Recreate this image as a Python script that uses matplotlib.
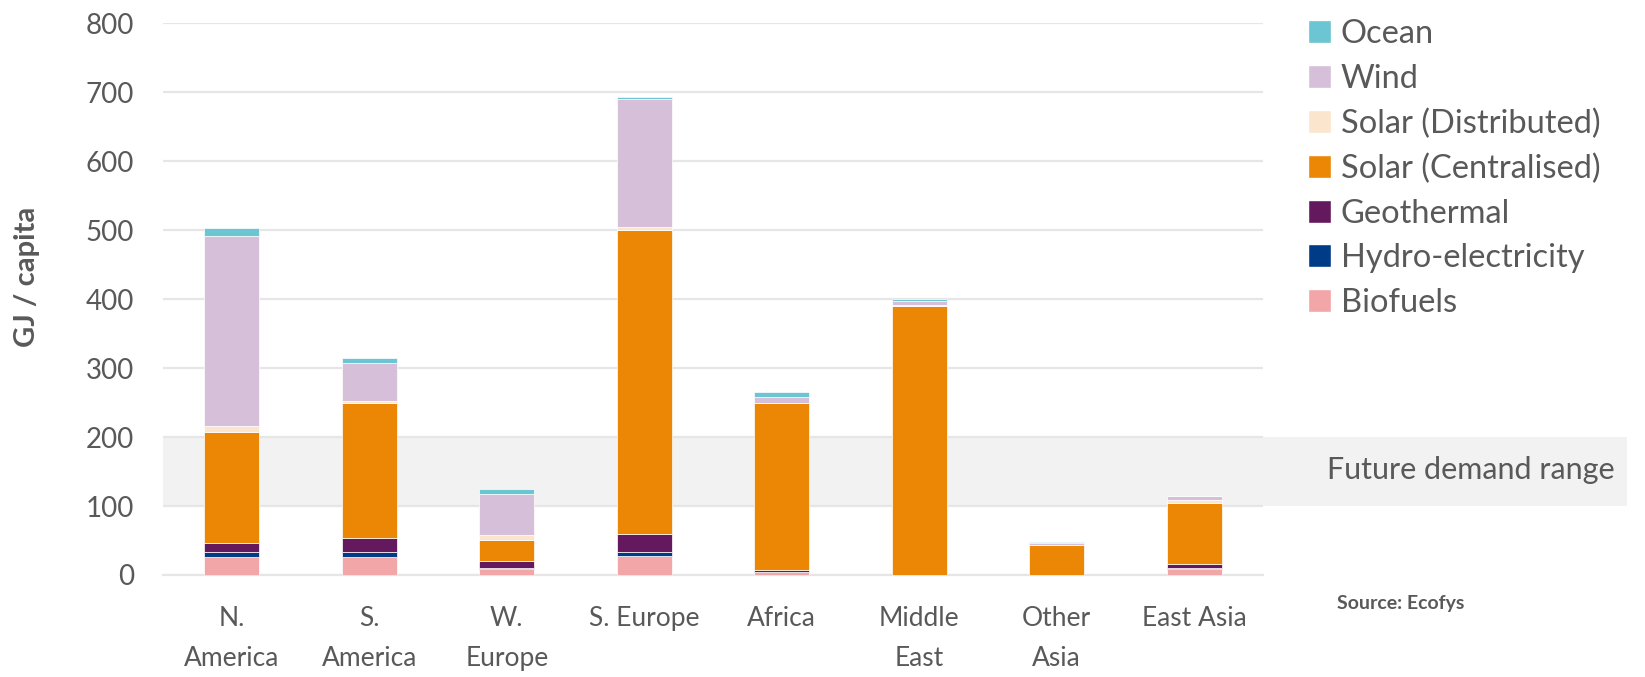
import matplotlib.pyplot as plt
import matplotlib.patches as mpatches
import numpy as np

plt.rcParams['font.family'] = ['Lato', 'DejaVu Sans']

# regions and stacked renewable supply (GJ / capita)
regions = ["N.\nAmerica", "S.\nAmerica", "W.\nEurope", "S. Europe", "Africa",
           "Middle\nEast", "Other\nAsia", "East Asia"]
biofuels = [26, 26, 8, 28, 4, 0, 0, 8]
hydro = [7, 7, 2, 5, 1, 0, 0, 2]
geothermal = [13, 20, 10, 26, 2, 0, 0, 6]
solar_central = [162, 197, 30, 441, 242, 390, 44, 89]
solar_distrib = [8, 2, 8, 4, 0, 1, 0, 3]
wind = [276, 56, 60, 186, 9, 6, 2, 6]
ocean = [11, 6, 7, 3, 7, 3, 2, 0]

series = [
    ("Biofuels", biofuels, "#F2A6A8"),
    ("Hydro-electricity", hydro, "#003B87"),
    ("Geothermal", geothermal, "#64195E"),
    ("Solar (Centralised)", solar_central, "#EB8705"),
    ("Solar (Distributed)", solar_distrib, "#FBE5CD"),
    ("Wind", wind, "#D5BFD9"),
    ("Ocean", ocean, "#6BC5D2"),
]

demand_low, demand_high = 100, 200
grey_txt = "#595959"
grid_col = "#E6E6E6"

fig = plt.figure(figsize=(16.45, 6.77), dpi=100)
ax = fig.add_axes([0.0991, 0.1507, 0.6687, 0.8149])

# future demand band, runs past the plot area under its label
band = mpatches.Rectangle((0, demand_low), 1.331, demand_high - demand_low,
                          transform=ax.get_yaxis_transform(), clip_on=False,
                          facecolor="#F2F2F2", edgecolor="none", zorder=0)
ax.add_patch(band)

x = np.arange(len(regions))
bottom = np.zeros(len(regions))
handles = []
for name, vals, col in series:
    vals = np.array(vals, dtype=float)
    ax.bar(x, vals, width=0.4, bottom=bottom, color=col,
           edgecolor="white", linewidth=0.5, zorder=3)
    bottom += vals
    handles.append(mpatches.Patch(facecolor=col, edgecolor="white", label=name))

ax.set_xlim(-0.5, len(regions) - 0.5)
ax.set_ylim(0, 800)
ax.set_yticks(np.arange(0, 801, 100))
ax.yaxis.grid(True, color=grid_col, linewidth=1.6, zorder=1)
ax.set_axisbelow(True)
for s in ["top", "right", "left"]:
    ax.spines[s].set_visible(False)
ax.spines["bottom"].set_color(grid_col)
ax.spines["bottom"].set_linewidth(1.6)
ax.tick_params(axis="both", length=0, colors=grey_txt)
ax.tick_params(axis="y", pad=21, labelsize=20)
ax.tick_params(axis="x", pad=22, labelsize=19)
ax.set_xticks(x)
ax.set_xticklabels(regions, linespacing=1.75)

ax.set_ylabel("GJ / capita", fontsize=21, fontweight="bold", color=grey_txt)
ax.yaxis.set_label_coords(-0.112, 0.54)

leg = fig.legend(handles=handles[::-1], loc="upper left",
                 bbox_to_anchor=(1308 / 1645, 1 - 19 / 677),
                 frameon=False, fontsize=23.5, handlelength=0.7,
                 handleheight=0.7, handletextpad=0.3, labelspacing=0.45,
                 borderaxespad=0, borderpad=0)
for t in leg.get_texts():
    t.set_color(grey_txt)

fig.text(1615 / 1645, 1 - 470 / 677, "Future demand range", ha="right",
         va="center", fontsize=22, color=grey_txt)
fig.text(1337 / 1645, 1 - 603 / 677, "Source: Ecofys", ha="left",
         va="center", fontsize=14, fontweight="bold", color=grey_txt)

fig.savefig("out.png", dpi=100, facecolor="white")
